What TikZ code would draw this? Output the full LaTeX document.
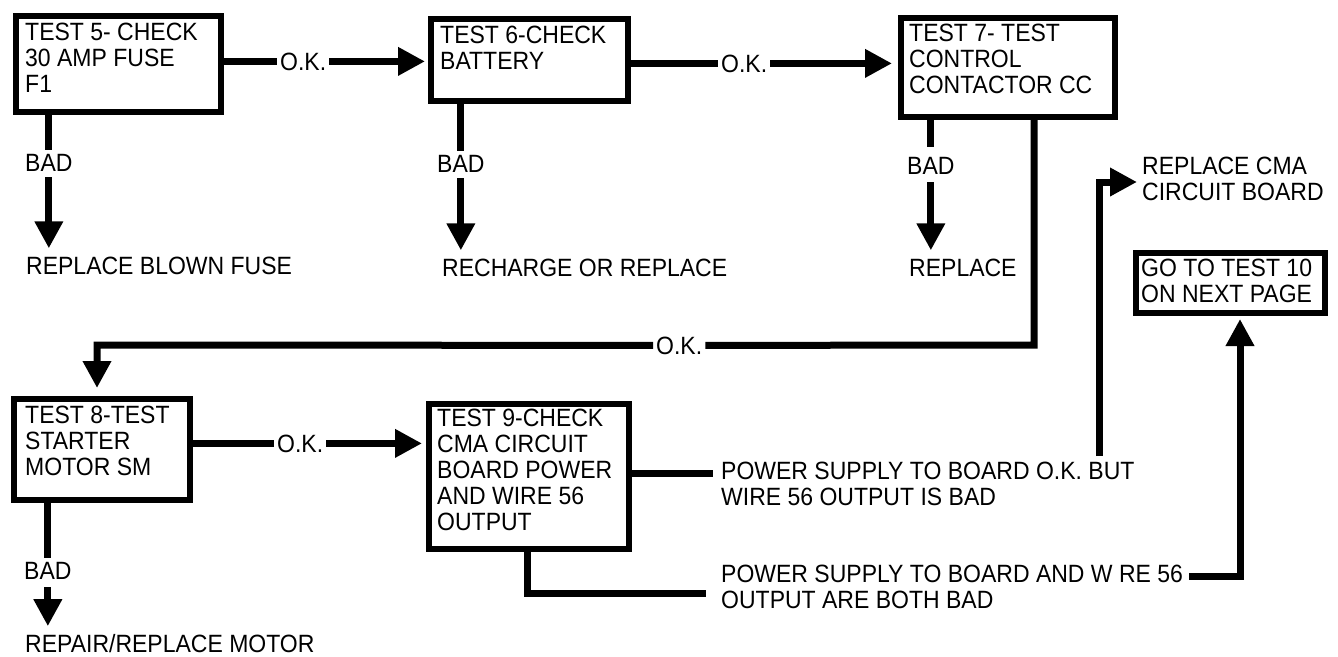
\documentclass[tikz,border=0pt]{standalone}
\usepackage{fontspec}
\setmainfont{Liberation Sans}[FakeStretch=0.92]
\usetikzlibrary{arrows.meta,calc}
\begin{document}
\begin{tikzpicture}[x=1pt,y=-1pt,
  box/.style={draw=black, line width=6pt, fill=white, anchor=north west, inner sep=0pt},
  txt/.style={inner sep=0pt, anchor=north west, align=left, font=\fontsize{25}{26}\selectfont},
  lbl/.style={inner xsep=3pt, inner ysep=4pt, anchor=base west, font=\fontsize{25}{26}\selectfont},
  conn/.style={line width=7pt, line join=miter},
  arr/.style={conn, -{Triangle[length=27pt,width=27pt]}},
]
\useasboundingbox[fill=white] (0,0) rectangle (1338,656);

% boxes
\node[box, minimum width=205pt, minimum height=96pt] (b1) at (13,13) {};
\node[box, minimum width=197pt, minimum height=82pt] (b2) at (428,16) {};
\node[box, minimum width=214pt, minimum height=99pt] (b3) at (898,15) {};
\node[box, minimum width=176pt, minimum height=101pt] (b4) at (11,396) {};
\node[box, minimum width=200pt, minimum height=145pt] (b5) at (426,401) {};
\node[box, minimum width=189pt, minimum height=60pt] (b6) at (1133,250) {};

% box texts
\node[txt] (t1) at (25,23) {TEST 5- CHECK\\30 AMP FUSE\\F1};
\node[txt] (t2) at (440,26) {TEST 6-CHECK\\BATTERY};
\node[txt] (t3) at (909,24) {TEST 7- TEST\\CONTROL\\CONTACTOR CC};
\node[txt] (t4) at (25,406) {TEST 8-TEST\\STARTER\\MOTOR SM};
\node[txt] (t5) at (437,409) {TEST 9-CHECK\\CMA CIRCUIT\\BOARD POWER\\AND WIRE 56\\OUTPUT};
\node[txt] (t6) at (1141,259) {GO TO TEST 10\\ON NEXT PAGE};

% labels
\node[lbl] (ok1) at (277,70) {O.K.};
\node[lbl] (ok2) at (718,72) {O.K.};
\node[lbl] (ok3) at (653,354) {O.K.};
\node[lbl] (ok4) at (274,452) {O.K.};
\node[lbl] (bad1) at (22,171) {BAD};
\node[lbl] (bad2) at (434,172) {BAD};
\node[lbl] (bad3) at (904,174) {BAD};
\node[lbl] (bad4) at (21,579) {BAD};
\node[lbl] (r1) at (23,274) {REPLACE BLOWN FUSE};
\node[lbl] (r2) at (439,276) {RECHARGE OR REPLACE};
\node[lbl] (r3) at (906,276) {REPLACE};
\node[lbl] (r4) at (22,652.5) {REPAIR/REPLACE MOTOR};
\node[txt] (cma) at (1142,157) {REPLACE CMA\\CIRCUIT BOARD};
\node[txt] (p1) at (721,462) {POWER SUPPLY TO BOARD O.K. BUT\\WIRE 56 OUTPUT IS BAD};
\node[txt] (p2) at (721,565) {POWER SUPPLY TO BOARD AND W RE 56\\OUTPUT ARE BOTH BAD};

% coordinates
\coordinate (c3) at (1034,345);
\coordinate (c4) at (97,345);
\coordinate (p1in) at (713,473);
\coordinate (d5) at (527,593);
\coordinate (p2in) at (706,593);
\coordinate (p2out) at (1189,576);
\coordinate (c6) at (1240,576);
\coordinate (p1out) at (1099,456);
\coordinate (c7) at (1099,182);

% OK connectors, top row
\draw[conn] (b1.east |- ok1) -- (ok1.west);
\draw[arr, shorten >=3pt] (ok1.east) -- (b2.west |- ok1);
\draw[conn] (b2.east |- ok2) -- (ok2.west);
\draw[arr, shorten >=6pt] (ok2.east) -- (b3.west |- ok2);

% BAD connectors
\draw[conn] (b1.south -| bad1) -- (bad1.north);
\draw[arr, shorten <=2pt, shorten >=4pt] (bad1.south) -- (bad1 |- r1.north);
\draw[conn] (b2.south -| bad2) -- (bad2.north);
\draw[arr, shorten <=2pt, shorten >=4pt] (bad2.south) -- (bad2 |- r2.north);
\draw[conn] (b3.south -| bad3) -- ([yshift=6pt]bad3.north);
\draw[arr, shorten <=4pt, shorten >=4pt] (bad3.south) -- (bad3 |- r3.north);
\draw[conn] (b4.south -| bad4) -- (bad4.north);
\draw[arr, shorten <=4pt, shorten >=4pt] (bad4.south) -- (bad4 |- r4.north);

% Test 7 OK to Test 8
\draw[conn] (b3.south -| c3) -- (c3) -- (ok3.east);
\draw[arr, shorten >=8pt] (ok3.west) -- (c4) -- (b4.north -| c4);

% Test 8 OK to Test 9
\draw[conn] (b4.east |- ok4) -- (ok4.west);
\draw[arr, shorten >=4pt] (ok4.east) -- (b5.west |- ok4);

% Test 9 outputs
\draw[conn] (b5.east |- p1in) -- (p1in);
\draw[conn] (b5.south -| d5) -- (d5) -- (p2in);
\draw[arr, shorten >=3pt] (p2out) -- (c6) -- (b6.south -| c6);
\draw[arr, shorten >=5pt] (p1out) -- (c7) -- (cma.west |- c7);
\end{tikzpicture}
\end{document}
